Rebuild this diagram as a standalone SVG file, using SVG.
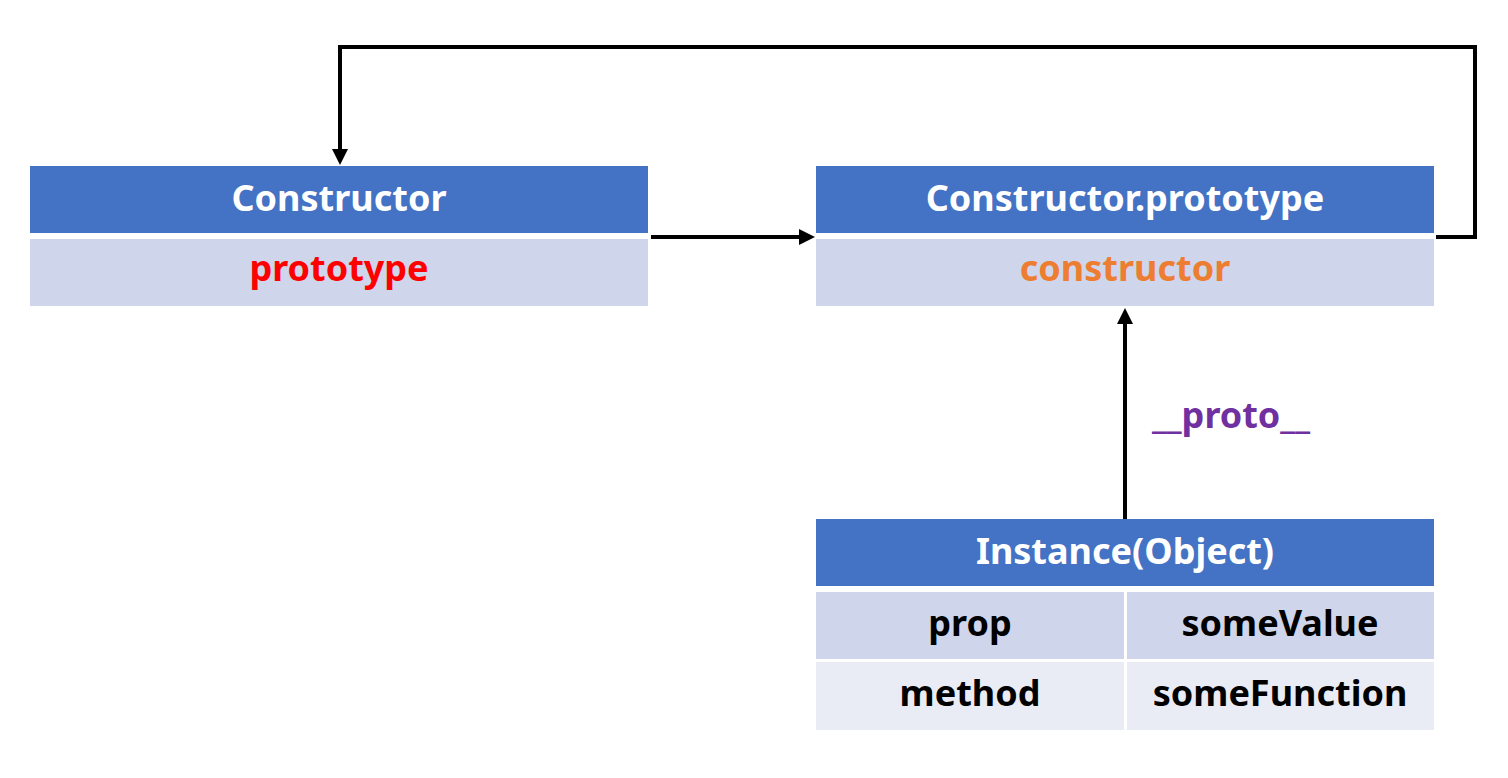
<svg xmlns="http://www.w3.org/2000/svg" width="1508" height="778" viewBox="0 0 1508 778">
<style>
.hd{fill:#4472C4}
.r1{fill:#CFD5EA}
.r2{fill:#E9EBF5}
text{font-family:"Noto Sans","Open Sans","Liberation Sans",sans-serif;font-weight:bold;font-size:36px;text-anchor:middle}
.w{fill:#FFFFFF}
.k{fill:#000000}
.c{fill:none;stroke:#000;stroke-width:4}
</style>
<defs>
<marker id="ah" markerWidth="4" markerHeight="4" refX="0" refY="2" orient="auto" markerUnits="strokeWidth" overflow="visible">
<path d="M0,0 L4,2 L0,4 Z" fill="#000"/>
</marker>
</defs>
<rect width="1508" height="778" fill="#fff"/>
<g id="constructor">
<rect class="hd" x="30" y="166" width="618" height="67"/>
<rect class="r1" x="30" y="239" width="618" height="67"/>
<text class="w" x="339" y="211">Constructor</text>
<text x="339" y="281" fill="#FF0000">prototype</text>
</g>
<g id="constructor-prototype">
<rect class="hd" x="816" y="166" width="618" height="67"/>
<rect class="r1" x="816" y="239" width="618" height="67"/>
<text class="w" x="1125" y="211">Constructor.prototype</text>
<text x="1125" y="281" fill="#ED7D31">constructor</text>
</g>
<g id="instance">
<rect class="hd" x="816" y="519" width="618" height="67"/>
<rect class="r1" x="816" y="592" width="308" height="67"/>
<rect class="r1" x="1127" y="592" width="307" height="67"/>
<rect class="r2" x="816" y="662" width="308" height="68"/>
<rect class="r2" x="1127" y="662" width="307" height="68"/>
<text class="w" x="1125" y="564">Instance(Object)</text>
<text class="k" x="970" y="636">prop</text>
<text class="k" x="1280" y="636">someValue</text>
<text class="k" x="970" y="706">method</text>
<text class="k" x="1280" y="706">someFunction</text>
</g>
<g id="connectors">
<path class="c" d="M651,237 L799,237" marker-end="url(#ah)"/>
<path class="c" d="M1436,237 L1475,237 L1475,47 L340,47 L340,149" marker-end="url(#ah)"/>
<path class="c" d="M1125,519 L1125,324" marker-end="url(#ah)"/>
<text x="1231" y="428" fill="#7030A0">__proto__</text>
</g>
</svg>
